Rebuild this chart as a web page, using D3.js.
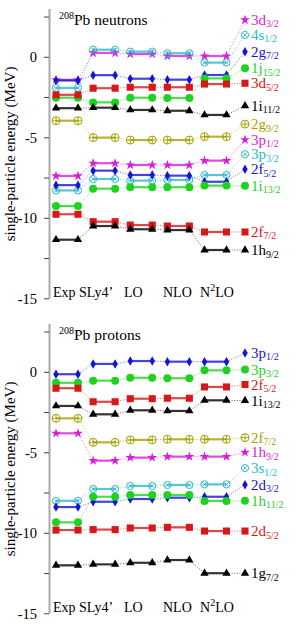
<!DOCTYPE html>
<html>
<head>
<meta charset="utf-8">
<script src="https://cdn.jsdelivr.net/npm/d3@7"></script>
<style>
  body { margin: 0; background: #fff; }
  svg text { font-family: "Liberation Serif", "Times New Roman", serif; }
</style>
</head>
<body>
<div id="chart"></div>
<script>
const models = ["Exp", "SLy4’", "LO", "NLO", "N2LO"];
const yTicks = [2.5, 0, -2.5, -5, -7.5, -10, -12.5, -15];

// 208Pb neutrons
const neutronStates = ["3d3/2", "4s1/2", "2g7/2", "1j15/2", "3d5/2", "1i11/2", "2g9/2",
                       "3p1/2", "3p3/2", "2f5/2", "1i13/2", "2f7/2", "1h9/2"];
const neutronExp  = [-1.40, -1.90, -1.44, -2.51, -2.33, -3.16, -3.94, -7.37, -8.27, -7.94, -9.24, -9.75, -11.33];
const neutronSLy4 = [0.27, 0.47, -1.11, -2.80, -1.92, -3.13, -4.99, -6.58, -7.56, -7.04, -8.16, -10.21, -10.48];
const neutronLO   = [0.20, 0.35, -1.33, -2.51, -1.86, -3.27, -5.14, -6.69, -7.66, -7.31, -8.07, -10.42, -10.68];
const neutronNLO  = [0.08, 0.25, -1.39, -2.53, -1.86, -3.32, -5.14, -6.69, -7.62, -7.35, -8.07, -10.48, -10.73];
const neutronN2LO = [0.08, -0.33, -1.10, -1.31, -1.66, -3.58, -4.93, -6.42, -7.31, -7.73, -7.97, -10.85, -11.97];

// 208Pb protons
const protonStates = ["3p1/2", "3p3/2", "2f5/2", "1i13/2", "2f7/2", "1h9/2",
                      "3s1/2", "2d3/2", "1h11/2", "2d5/2", "1g7/2"];
const protonExp  = [-0.12, -0.65, -0.99, -2.09, -2.86, -3.79, -7.98, -8.37, -9.32, -9.80, -11.99];
const protonSLy4 = [0.52, -0.52, -1.83, -2.61, -4.35, -5.49, -7.25, -8.04, -7.73, -9.77, -11.93];
const protonLO   = [0.70, -0.34, -1.64, -2.36, -4.20, -5.30, -7.06, -7.87, -7.62, -9.67, -11.83];
const protonNLO  = [0.66, -0.37, -1.61, -2.40, -4.16, -5.24, -7.00, -7.79, -7.62, -9.63, -11.66];
const protonN2LO = [0.66, 0.12, -0.91, -1.74, -4.16, -5.24, -6.96, -7.73, -7.99, -9.86, -12.48];

// label placement (energy where the right-hand label sits) and marker styles
const neutronLabelAt = [2.32, 1.39, 0.35, -0.68, -1.61, -3.02, -4.15, -5.12, -6.02, -6.96, -7.98, -10.85, -11.97];
const neutronStyle = ["star", "otimes", "diamond", "circle", "square", "triangle", "oplus",
                      "star", "otimes", "diamond", "circle", "square", "triangle"];
const protonLabelAt = [1.20, 0.17, -0.76, -1.76, -4.06, -4.97, -5.95, -6.98, -7.98, -9.86, -12.48];
const protonStyle = ["diamond", "circle", "square", "triangle", "oplus", "star",
                     "otimes", "diamond", "circle", "square", "triangle"];

const colors = {
  star: "#d81ed8", otimes: "#2fb8c8", diamond: "#1414d2", circle: "#1ed21e",
  square: "#d81818", triangle: "#000000", oplus: "#a8a000"
};

const W = 297, H = 631;
const svg = d3.select("#chart").append("svg")
    .attr("width", W).attr("height", H)
    .attr("viewBox", `0 0 ${W} ${H}`);

const x = d3.scaleLinear().domain([0, 4]).range([67, 215.5]);
const HALF = 11;
const LABEL_X = 245;

function drawMarker(g, type, cx, cy) {
  const c = colors[type];
  if (type === "circle") {
    g.append("circle").attr("cx", cx).attr("cy", cy).attr("r", 4).attr("fill", c);
  } else if (type === "otimes" || type === "oplus") {
    const r = type === "oplus" ? 4 : 3.6;
    g.append("circle").attr("cx", cx).attr("cy", cy).attr("r", r)
      .attr("fill", "none").attr("stroke", c).attr("stroke-width", 1);
    const a = type === "oplus" ? r : r * 0.55;
    const segs = type === "oplus"
      ? [[cx - a, cy, cx + a, cy], [cx, cy - a, cx, cy + a]]
      : [[cx - a, cy - a, cx + a, cy + a], [cx - a, cy + a, cx + a, cy - a]];
    segs.forEach(s => g.append("line")
      .attr("x1", s[0]).attr("y1", s[1]).attr("x2", s[2]).attr("y2", s[3])
      .attr("stroke", c).attr("stroke-width", 0.9));
  } else {
    const sym = { star: d3.symbolStar, diamond: d3.symbolDiamond,
                  square: d3.symbolSquare, triangle: d3.symbolTriangle }[type];
    const size = { star: 30, diamond: 26, square: 50, triangle: 30 }[type];
    g.append("path").attr("d", d3.symbol(sym, size)())
      .attr("transform", `translate(${cx},${cy})`).attr("fill", c);
  }
}

function drawPanel(top, title, states, series, labelAt, styles) {
  const y = d3.scaleLinear().domain([3, -15]).range([top, top + 289.8]);
  const g = svg.append("g");

  // axis
  g.append("line").attr("x1", 49.5).attr("x2", 49.5)
    .attr("y1", y(3)).attr("y2", y(-15))
    .attr("stroke", "#aaa").attr("stroke-width", 2);
  yTicks.forEach(t => {
    g.append("line").attr("x1", 44).attr("x2", 49)
      .attr("y1", y(t)).attr("y2", y(t)).attr("stroke", "#444").attr("stroke-width", 1);
    if (t % 5 === 0) {
      g.append("text").attr("x", 37).attr("y", y(t) + 5)
        .attr("text-anchor", "end").attr("font-size", 14.5).text(t);
    }
  });

  g.append("text")
    .attr("transform", `translate(15,${(y(3) + y(-15)) / 2}) rotate(-90)`)
    .attr("text-anchor", "middle").attr("font-size", 15)
    .text("single-particle energy (MeV)");

  const tt = g.append("text").attr("x", 59).attr("y", top + 16).attr("font-size", 15.5);
  tt.append("tspan").attr("font-size", 10).attr("dy", -6).text("208");
  tt.append("tspan").attr("dy", 6).text("Pb " + title);

  // model names
  const nameX = [53, 79, 124, 163, 200];
  models.forEach((m, i) => {
    const t = g.append("text").attr("x", nameX[i]).attr("y", top + 287.5).attr("font-size", 14);
    if (m === "N2LO") {
      t.append("tspan").text("N");
      t.append("tspan").attr("font-size", 10).attr("dy", -6).text("2");
      t.append("tspan").attr("dy", 6).text("LO");
    } else {
      t.text(m);
    }
  });

  states.forEach((s, k) => {
    const type = styles[k];
    const c = colors[type];
    const lg = g.append("g");
    const vals = series.map(ser => ser[k]);

    // dotted connectors
    for (let i = 0; i < vals.length - 1; i++) {
      lg.append("line")
        .attr("x1", x(i) + HALF).attr("y1", y(vals[i]))
        .attr("x2", x(i + 1) - HALF).attr("y2", y(vals[i + 1]))
        .attr("stroke", c).attr("stroke-width", 0.9).attr("stroke-opacity", 0.7)
        .attr("stroke-dasharray", "1,1.6");
    }
    lg.append("line")
      .attr("x1", x(4) + HALF).attr("y1", y(vals[4]))
      .attr("x2", LABEL_X).attr("y2", y(labelAt[k]))
      .attr("stroke", c).attr("stroke-width", 0.9).attr("stroke-opacity", 0.7)
      .attr("stroke-dasharray", "1,1.6");

    // level segments
    vals.forEach((v, i) => {
      lg.append("line")
        .attr("x1", x(i) - HALF).attr("x2", x(i) + HALF)
        .attr("y1", y(v)).attr("y2", y(v))
        .attr("stroke", c).attr("stroke-width", 2.2).attr("stroke-opacity", 0.8);
      drawMarker(lg, type, x(i) - HALF, y(v));
      drawMarker(lg, type, x(i) + HALF, y(v));
    });

    // right-hand label
    drawMarker(lg, type, LABEL_X, y(labelAt[k]));
    const m = s.match(/^(\d[a-z])(\d+\/2)$/);
    const t = lg.append("text").attr("x", 251).attr("y", y(labelAt[k]) + 5)
      .attr("font-size", 15).attr("fill", c);
    t.append("tspan").text(m[1]);
    t.append("tspan").attr("font-size", 10).attr("dy", 2.5).text(m[2]);
  });
}

drawPanel(9, "neutrons", neutronStates,
  [neutronExp, neutronSLy4, neutronLO, neutronNLO, neutronN2LO], neutronLabelAt, neutronStyle);
drawPanel(324, "protons", protonStates,
  [protonExp, protonSLy4, protonLO, protonNLO, protonN2LO], protonLabelAt, protonStyle);
</script>
</body>
</html>
